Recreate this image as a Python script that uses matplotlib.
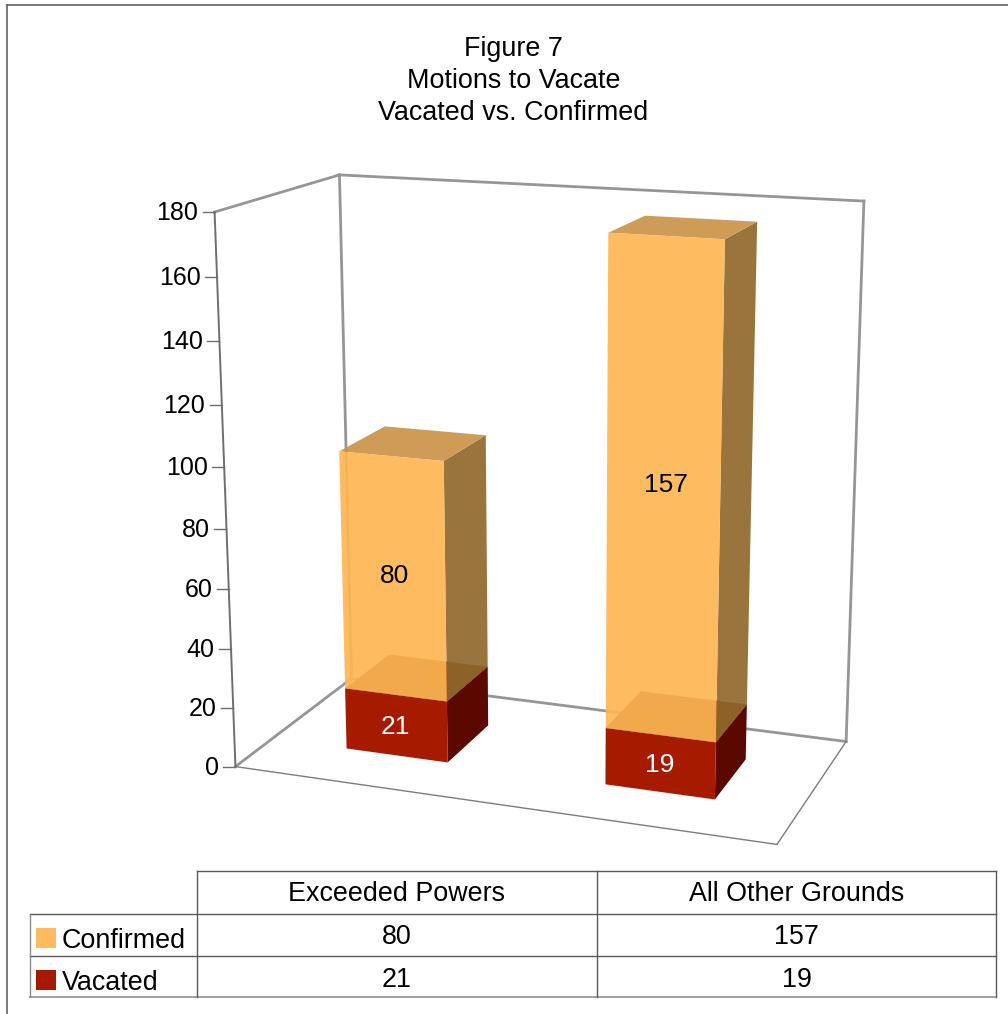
import numpy as np
import matplotlib
matplotlib.use("Agg")
import matplotlib.pyplot as plt
from matplotlib.patches import Polygon, Rectangle

plt.rcParams["font.family"] = ["Liberation Sans", "DejaVu Sans"]

title_lines = ["Figure 7", "Motions to Vacate", "Vacated vs. Confirmed"]
categories = ["Exceeded Powers", "All Other Grounds"]
confirmed = [80, 157]
vacated = [21, 19]
y_ticks = [0, 20, 40, 60, 80, 100, 120, 140, 160, 180]
y_max = 180

W, H = 1008, 1014
FONT = 19.4
TICK_FONT = 18.0
LABEL_FONT = 19.0

ORANGE_FRONT, ORANGE_TOP, ORANGE_SIDE = "#feb652", "#cb9449", "#90692c"
RED_FRONT, RED_TOP, RED_SIDE = "#a61b00", "#761e00", "#5a0800"
ORANGE_KEY, RED_KEY = "#ffbb61", "#a61b00"
WALL = "#969696"
FLOOR = "#7c7c7c"
GRID = "#5a5a5a"

# chart box corners (across, depth, height) -> pixel position, used to fit the camera
box_world = [(0, 0, 0), (0, 0, 1), (0, 1, 0), (0, 1, 1), (1, 1, 0), (1, 1, 1), (1, 0, 0)]
box_pixels = [(235, 767), (215, 212), (352, 678), (339, 175), (846, 742), (864, 201), (777, 844)]


def fit_camera(world, pixels):
    rows = []
    for (x, y, z), (u, v) in zip(world, pixels):
        rows.append([x, y, z, 1, 0, 0, 0, 0, -u * x, -u * y, -u * z, -u])
        rows.append([0, 0, 0, 0, x, y, z, 1, -v * x, -v * y, -v * z, -v])
    return np.linalg.svd(np.array(rows, dtype=float))[2][-1].reshape(3, 4)


camera = fit_camera(box_world, box_pixels)


def project(x, y, z):
    p = camera @ np.array([x, y, z / y_max, 1.0])
    return p[0] / p[2], p[1] / p[2]


def face(ax, corners, color, alpha=1.0, zorder=3):
    pts = [project(*c) for c in corners]
    ax.add_patch(Polygon(pts, closed=True, facecolor=color, edgecolor="none", alpha=alpha, zorder=zorder))


def draw_box(ax, x0, x1, z0, z1, front, top, side, alpha, zorder):
    y0, y1 = 0.3, 0.7
    face(ax, [(x1, y0, z0), (x1, y1, z0), (x1, y1, z1), (x1, y0, z1)], side, alpha, zorder)
    face(ax, [(x0, y0, z1), (x1, y0, z1), (x1, y1, z1), (x0, y1, z1)], top, alpha, zorder)
    face(ax, [(x0, y0, z0), (x1, y0, z0), (x1, y0, z1), (x0, y0, z1)], front, alpha, zorder)


def edge(ax, a, b, color, lw):
    pa, pb = project(*a), project(*b)
    ax.plot([pa[0], pb[0]], [pa[1], pb[1]], color=color, lw=lw, solid_capstyle="projecting", zorder=2)


fig = plt.figure(figsize=(W / 100, H / 100), dpi=100)
ax = fig.add_axes([0, 0, 1, 1])
ax.set_xlim(0, W)
ax.set_ylim(H, 0)
ax.axis("off")

# outer frame
ax.plot([7, 7], [H, 5], color="#555555", lw=1.1)
ax.plot([7, W], [5, 5], color="#555555", lw=1.1)

for i, line in enumerate(title_lines):
    ax.text(513.5, 49 + 32 * i, line, ha="center", va="center", fontsize=FONT, color="black")

# back and side walls
edge(ax, (0, 0, y_max), (0, 1, y_max), WALL, 2.0)
edge(ax, (0, 1, y_max), (1, 1, y_max), WALL, 2.0)
edge(ax, (1, 1, y_max), (1, 1, 0), WALL, 2.0)
edge(ax, (0, 1, y_max), (0, 1, 0), WALL, 2.0)
edge(ax, (0, 1, 0), (1, 1, 0), WALL, 2.0)
edge(ax, (0, 0, 0), (0, 1, 0), WALL, 2.0)
# front floor edges and value axis
edge(ax, (0, 0, 0), (1, 0, 0), FLOOR, 1.0)
edge(ax, (1, 0, 0), (1, 1, 0), FLOOR, 1.0)
edge(ax, (0, 0, 0), (0, 0, y_max), "#6e6e6e", 1.4)

for tick in y_ticks:
    px, py = project(0, 0, tick)
    ax.plot([px - 12, px], [py, py], color="#6e6e6e", lw=1.0, zorder=2)
    ax.text(px - 16.5, py + 1, str(tick), ha="right", va="center", fontsize=TICK_FONT, color="black")

# small shifts of the value labels off the face centres
vacated_shift = [(-1, 2), (0, 1)]
confirmed_shift = [(1, -1), (3, -7)]

bar_width = 0.2
for i in range(len(categories)):
    centre = (i + 0.5) / len(categories)
    x0, x1 = centre - bar_width / 2, centre + bar_width / 2
    low, high = vacated[i], vacated[i] + confirmed[i]
    draw_box(ax, x0, x1, 0, low, RED_FRONT, RED_TOP, RED_SIDE, 1.0, 3)
    draw_box(ax, x0, x1, low, high, ORANGE_FRONT, ORANGE_TOP, ORANGE_SIDE, 0.92, 4)
    lx, ly = project(centre, 0.3, low / 2)
    ax.text(lx + vacated_shift[i][0], ly + vacated_shift[i][1], str(vacated[i]), ha="center", va="center",
            fontsize=LABEL_FONT, color="white", zorder=5)
    lx, ly = project(centre, 0.3, low + confirmed[i] / 2)
    ax.text(lx + confirmed_shift[i][0], ly + confirmed_shift[i][1], str(confirmed[i]), ha="center", va="center",
            fontsize=LABEL_FONT, color="black", zorder=5)

# data table under the chart
col_x = [29.5, 197, 597, 996]
row_y = [871, 913.5, 956, 997]
grid_kw = dict(color=GRID, lw=1.0, zorder=2)
ax.plot([col_x[1], col_x[3]], [row_y[0], row_y[0]], **grid_kw)
for y in row_y[1:3]:
    ax.plot([col_x[0], col_x[3]], [y, y], **grid_kw)
ax.plot([col_x[0], col_x[3]], [row_y[3], row_y[3]], color="#a0a0a0", lw=1.4, zorder=2)
ax.plot([col_x[0], col_x[0]], [row_y[1], row_y[3]], color="#8a8a8a", lw=1.0, zorder=2)
for x in col_x[1:]:
    ax.plot([x, x], [row_y[0], row_y[3]], **grid_kw)

for i, name in enumerate(categories):
    mid = (col_x[i + 1] + col_x[i + 2]) / 2
    ax.text(mid, 894, name, ha="center", va="center", fontsize=FONT)
    ax.text(mid, 937, str(confirmed[i]), ha="center", va="center", fontsize=FONT)
    ax.text(mid, 980, str(vacated[i]), ha="center", va="center", fontsize=FONT)

for label, color, top in [("Confirmed", ORANGE_KEY, 928), ("Vacated", RED_KEY, 970)]:
    ax.add_patch(Rectangle((36, top), 19.5, 19.5, facecolor=color, edgecolor="none"))
    ax.text(62, top + 12.5, label, ha="left", va="center", fontsize=FONT)

fig.savefig("out.png", dpi=100)
